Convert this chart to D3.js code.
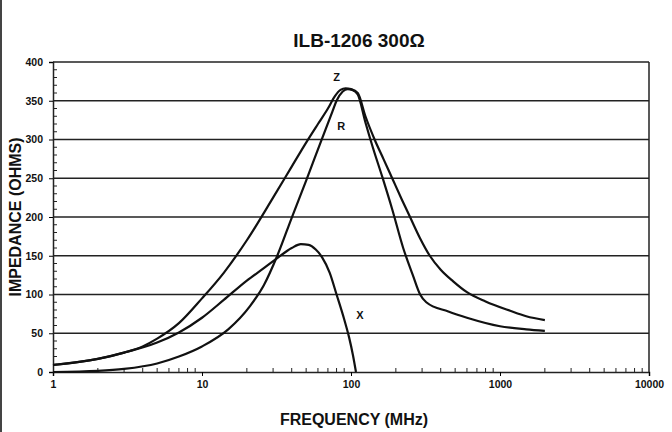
<!DOCTYPE html>
<html><head><meta charset="utf-8">
<script src="https://cdn.jsdelivr.net/npm/d3@7"></script>
<style>body{margin:0;background:#fff}svg{display:block}</style>
</head><body><svg id="c" width="672" height="432"></svg>
<script>
const title = "ILB-1206 300\u03A9";
const xTickLabels = [1, 10, 100, 1000, 10000];
const yTickLabels = [0, 50, 100, 150, 200, 250, 300, 350, 400];

const zFreq = [1, 1.5, 2, 3, 4, 5, 7, 10, 14, 20, 30, 40, 50, 60, 70, 78, 85, 92, 100, 111, 125, 144, 165, 191, 220, 249, 290, 338, 400, 485, 600, 800, 1170, 1500, 2000];
const zVals = [9, 13, 17, 25, 33, 43, 63, 95, 128, 170, 225, 265, 296, 320, 340, 356, 364, 366, 365, 360, 330, 300, 275, 248, 222, 200, 173, 150, 132, 117, 103, 91, 79, 72, 67];

const rFreq = [1, 2, 3, 5, 7, 10, 15, 21, 26, 32, 40, 50, 63, 75, 80, 88, 95, 102, 111, 125, 140, 162, 189, 224, 260, 291, 320, 450, 600, 1000, 1500, 2000];
const rVals = [0, 1.5, 4, 11, 20, 33, 55, 85, 112, 150, 199, 247, 298, 336, 350, 362, 365, 364, 358, 322, 290, 252, 210, 160, 125, 100, 90, 78, 70, 59, 55, 53];

const xFreq = [1, 2, 3, 5, 7, 10, 14, 20, 26, 32, 40, 46, 52, 58, 64, 72, 80, 90, 97, 103, 108];
const xVals = [9, 17, 25, 38, 51, 70, 93, 118, 134, 147, 160, 165, 164, 158, 148, 128, 100, 68, 45, 22, 0];

const seriesNames = ["Z", "R", "X"];
const seriesLabelFreq = [80, 86, 115];
const seriesLabelVal = [379, 316, 72];

const svg = d3.select("#c");
const x = d3.scaleLog().domain([1, 10000]).range([53, 649]);
const y = d3.scaleLinear().domain([0, 400]).range([372, 62]);
const font = "'Liberation Sans', Arial, Helvetica, sans-serif";

// page edge line
svg.append("line").attr("x1", 1).attr("x2", 1).attr("y1", 0).attr("y2", 432)
  .attr("stroke", "#444").attr("stroke-width", 2);

// gridlines
svg.append("g").selectAll("line").data(yTickLabels.filter(v => v > 0)).join("line")
  .attr("x1", x(1)).attr("x2", x(10000)).attr("y1", d => y(d)).attr("y2", d => y(d))
  .attr("stroke", "#222").attr("stroke-width", 1.3);

// right border
svg.append("line").attr("x1", x(10000)).attr("x2", x(10000)).attr("y1", y(400)).attr("y2", y(0))
  .attr("stroke", "#222").attr("stroke-width", 1.5);

// y axis
const yAxis = d3.axisLeft(y).tickValues(yTickLabels).tickSize(4).tickPadding(6);
const gy = svg.append("g").attr("transform", `translate(${x(1)},0)`).call(yAxis);
gy.select(".domain").attr("stroke", "#222").attr("stroke-width", 1.5);
gy.selectAll("text").attr("font-family", font).attr("font-weight", "bold").attr("font-size", 10.5).attr("fill", "#111");
const yMinor = d3.range(0, 401, 10).filter(v => v % 50 !== 0);
svg.append("g").selectAll("line").data(yMinor).join("line")
  .attr("x1", x(1)).attr("x2", x(1) + 4).attr("y1", d => y(d)).attr("y2", d => y(d))
  .attr("stroke", "#222").attr("stroke-width", 1);

// x axis
const xAxis = d3.axisBottom(x).tickValues(xTickLabels).tickFormat(d3.format("d")).tickSize(4).tickPadding(5);
const gx = svg.append("g").attr("transform", `translate(0,${y(0)})`).call(xAxis);
gx.select(".domain").attr("stroke", "#222").attr("stroke-width", 1.5);
gx.selectAll("text").attr("font-family", font).attr("font-weight", "bold").attr("font-size", 10.5).attr("fill", "#111");
const xMinor = [];
[1, 10, 100, 1000].forEach(d => { for (let k = 2; k <= 9; k++) xMinor.push(d * k); });
svg.append("g").selectAll("line").data(xMinor).join("line")
  .attr("x1", d => x(d)).attr("x2", d => x(d)).attr("y1", y(0)).attr("y2", y(0) - 4)
  .attr("stroke", "#222").attr("stroke-width", 1);

// curves
const line = d3.line().x(d => x(d[0])).y(d => y(d[1])).curve(d3.curveMonotoneX);
const series = [d3.zip(zFreq, zVals), d3.zip(rFreq, rVals), d3.zip(xFreq, xVals)];
svg.append("g").selectAll("path").data(series).join("path")
  .attr("d", line).attr("fill", "none").attr("stroke", "#111")
  .attr("stroke-width", 2.2).attr("stroke-linejoin", "round");

// series labels
svg.append("g").selectAll("text").data(seriesNames).join("text")
  .attr("x", (d, i) => x(seriesLabelFreq[i]))
  .attr("y", (d, i) => y(seriesLabelVal[i]))
  .attr("text-anchor", "middle").attr("dominant-baseline", "middle")
  .attr("font-family", font).attr("font-weight", "bold").attr("font-size", 11).attr("fill", "#111")
  .text(d => d);

// title
svg.append("text").attr("x", 359).attr("y", 47).attr("text-anchor", "middle")
  .attr("font-family", font).attr("font-weight", "bold").attr("font-size", 19).attr("fill", "#111")
  .text(title);

// axis titles
svg.append("text").attr("x", 354).attr("y", 425).attr("text-anchor", "middle")
  .attr("font-family", font).attr("font-weight", "bold").attr("font-size", 16).attr("fill", "#111")
  .text("FREQUENCY (MHz)");
svg.append("text").attr("transform", "translate(21,217) rotate(-90)").attr("text-anchor", "middle")
  .attr("font-family", font).attr("font-weight", "bold").attr("font-size", 16).attr("fill", "#111")
  .text("IMPEDANCE (OHMS)");
</script>
</body></html>
